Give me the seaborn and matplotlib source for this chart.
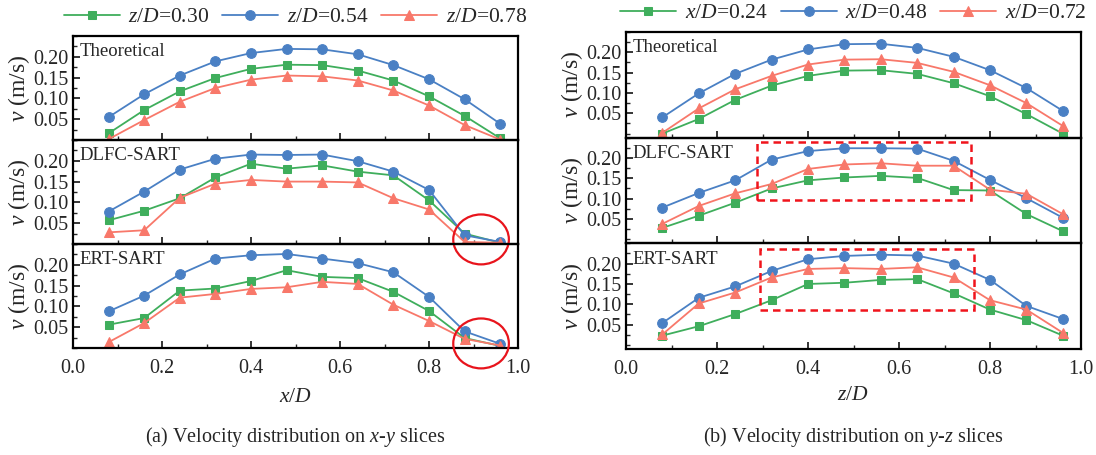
import numpy as np
import pandas as pd
import seaborn as sns
import matplotlib.pyplot as plt
from matplotlib.ticker import MultipleLocator
from matplotlib.patches import Ellipse, Rectangle

# --- data ---
pos = [0.08, 0.16, 0.24, 0.32, 0.40, 0.48, 0.56, 0.64, 0.72, 0.80, 0.88, 0.96]
methods = ["Theoretical", "DLFC-SART", "ERT-SART"]

# (a) x-y slices, series z/D
xy_labels = ["0.30", "0.54", "0.78"]
xy_theo_030 = [0.016, 0.072, 0.117, 0.149, 0.171, 0.181, 0.180, 0.167, 0.143, 0.105, 0.058, 0.004]
xy_theo_054 = [0.055, 0.110, 0.155, 0.189, 0.209, 0.219, 0.218, 0.206, 0.180, 0.146, 0.098, 0.039]
xy_theo_078 = [0.002, 0.048, 0.092, 0.125, 0.145, 0.155, 0.153, 0.143, 0.119, 0.083, 0.036, 0.001]
xy_dlfc_030 = [0.057, 0.080, 0.110, 0.160, 0.193, 0.181, 0.189, 0.174, 0.165, 0.105, 0.025, 0.003]
xy_dlfc_054 = [0.078, 0.126, 0.179, 0.205, 0.215, 0.214, 0.215, 0.199, 0.174, 0.130, 0.021, 0.005]
xy_dlfc_078 = [0.028, 0.033, 0.111, 0.145, 0.154, 0.150, 0.150, 0.148, 0.110, 0.083, 0.005, 0.003]
xy_ert_030 = [0.056, 0.072, 0.138, 0.143, 0.161, 0.187, 0.171, 0.168, 0.135, 0.089, 0.024, 0.005]
xy_ert_054 = [0.088, 0.126, 0.177, 0.215, 0.223, 0.226, 0.215, 0.204, 0.182, 0.123, 0.040, 0.010]
xy_ert_078 = [0.014, 0.060, 0.121, 0.130, 0.142, 0.146, 0.159, 0.154, 0.104, 0.065, 0.022, 0.006]

# (b) y-z slices, series x/D
yz_labels = ["0.24", "0.48", "0.72"]
yz_theo_024 = [0.000, 0.036, 0.083, 0.118, 0.142, 0.155, 0.156, 0.147, 0.124, 0.092, 0.048, 0.000]
yz_theo_048 = [0.040, 0.099, 0.147, 0.182, 0.207, 0.220, 0.221, 0.211, 0.189, 0.156, 0.112, 0.056]
yz_theo_072 = [0.002, 0.062, 0.109, 0.142, 0.170, 0.182, 0.183, 0.174, 0.152, 0.119, 0.075, 0.019]
yz_dlfc_024 = [0.028, 0.058, 0.090, 0.125, 0.145, 0.152, 0.156, 0.151, 0.121, 0.120, 0.062, 0.020]
yz_dlfc_048 = [0.078, 0.114, 0.145, 0.196, 0.217, 0.224, 0.224, 0.223, 0.193, 0.146, 0.101, 0.053]
yz_dlfc_072 = [0.038, 0.082, 0.113, 0.136, 0.173, 0.184, 0.187, 0.181, 0.181, 0.122, 0.112, 0.062]
yz_ert_024 = [0.023, 0.046, 0.076, 0.110, 0.150, 0.153, 0.160, 0.162, 0.127, 0.087, 0.061, 0.023]
yz_ert_048 = [0.054, 0.116, 0.144, 0.182, 0.211, 0.219, 0.222, 0.220, 0.200, 0.160, 0.096, 0.064]
yz_ert_072 = [0.026, 0.102, 0.129, 0.166, 0.187, 0.189, 0.187, 0.191, 0.166, 0.110, 0.087, 0.030]

xy_data = [[xy_theo_030, xy_theo_054, xy_theo_078],
           [xy_dlfc_030, xy_dlfc_054, xy_dlfc_078],
           [xy_ert_030, xy_ert_054, xy_ert_078]]
yz_data = [[yz_theo_024, yz_theo_048, yz_theo_072],
           [yz_dlfc_024, yz_dlfc_048, yz_dlfc_072],
           [yz_ert_024, yz_ert_048, yz_ert_072]]

# colour / marker per series (order: green, blue, red)
colors = ["#3fae5c", "#4a80c4", "#f8786a"]
markers = ["s", "o", "^"]

sns.set_theme(style="white")
plt.rcParams["font.family"] = ["Liberation Serif", "DejaVu Serif"]
plt.rcParams["mathtext.fontset"] = "custom"
plt.rcParams["mathtext.rm"] = "Liberation Serif"
plt.rcParams["mathtext.it"] = "Liberation Serif:italic"

fig = plt.figure(figsize=(10.96, 4.55), dpi=100)
W, H = 1096, 455


def make_axes(left, right, top, bottom):
    h = (bottom - top) / 3
    axs = []
    for i in range(3):
        t = top + i * h
        axs.append(fig.add_axes([left / W, 1 - (t + h) / H, (right - left) / W, h / H]))
    return axs


def draw_panel(axs, data, labels, var, ylo):
    for i, ax in enumerate(axs):
        ax.patch.set_alpha(0)
        for j in range(3):
            df = pd.DataFrame({"pos": pos, "v": data[i][j]})
            sns.lineplot(data=df, x="pos", y="v", ax=ax, color=colors[j],
                         marker=markers[j], markersize=7 if markers[j] != "s" else 6,
                         markeredgecolor=colors[j], linewidth=1.3,
                         label=f"${var}/D$={labels[j]}", legend=False)
        ax.set_xlim(0, 1.0)
        ax.set_ylim(ylo, 0.25)
        ax.set_yticks([0.05, 0.10, 0.15, 0.20])
        ax.yaxis.set_minor_locator(MultipleLocator(0.025))
        ax.xaxis.set_major_locator(MultipleLocator(0.2))
        ax.xaxis.set_minor_locator(MultipleLocator(0.1))
        ax.yaxis.set_major_formatter(plt.FuncFormatter(lambda v, p: f"{v:.2f}"))
        ax.xaxis.set_major_formatter(plt.FuncFormatter(lambda v, p: f"{v:.1f}"))
        ax.tick_params(which="both", direction="in", bottom=True, left=True,
                       top=False, right=False, labelsize=14.5)
        ax.tick_params(axis="x", pad=8)
        ax.tick_params(axis="y", pad=3)
        ax.tick_params(which="major", length=5, width=1.3)
        ax.tick_params(which="minor", length=3, width=1.0)
        for s in ax.spines.values():
            s.set_linewidth(1.6)
            s.set_color("black")
        ax.set_xlabel("")
        ax.set_ylabel("$v$ (m/s)", fontsize=17, labelpad=1)
        ax.text(0.015, 0.93, methods[i], transform=ax.transAxes, fontsize=13.5,
                va="top", ha="left")
        if i < 2:
            ax.tick_params(labelbottom=False)
    handles, lbls = axs[0].get_legend_handles_labels()
    axs[0].legend(handles, lbls, loc="lower center", bbox_to_anchor=(0.5, 1.0),
                  ncol=3, frameon=False, fontsize=15.5, handlelength=2.6,
                  columnspacing=0.6, handletextpad=0.4, borderaxespad=0.0)


left_axes = make_axes(73, 518, 36, 348)
right_axes = make_axes(626, 1081, 32, 349)
draw_panel(left_axes, xy_data, xy_labels, "z", 0.0)
draw_panel(right_axes, yz_data, yz_labels, "x", -0.01)

# red circles on (a)
for ax in left_axes[1:]:
    ax.add_patch(Ellipse((0.917, 0.011), 0.125, 0.12, fill=False, edgecolor="#e8141c",
                         linewidth=1.6, clip_on=False, zorder=10))

# red dashed boxes on (b)
right_axes[1].add_patch(Rectangle((0.288, 0.096), 0.47, 0.144, fill=False,
                                  edgecolor="#f0141c", linestyle=(0, (3, 2)),
                                  linewidth=1.8, zorder=10))
right_axes[2].add_patch(Rectangle((0.295, 0.087), 0.47, 0.148, fill=False,
                                  edgecolor="#f0141c", linestyle=(0, (3, 2)),
                                  linewidth=1.8, zorder=10))

# axis labels and captions
fig.text(295 / W, 1 - 398 / H, "$x/D$", ha="center", va="center", fontsize=15.5)
fig.text(853 / W, 1 - 395 / H, "$z/D$", ha="center", va="center", fontsize=15.5)
fig.text(295 / W, 1 - 437 / H, "(a) Velocity distribution on $x$-$y$ slices",
         ha="center", va="center", fontsize=14.5)
fig.text(853 / W, 1 - 437 / H, "(b) Velocity distribution on $y$-$z$ slices",
         ha="center", va="center", fontsize=14.5)

fig.savefig("out.png", dpi=100)
